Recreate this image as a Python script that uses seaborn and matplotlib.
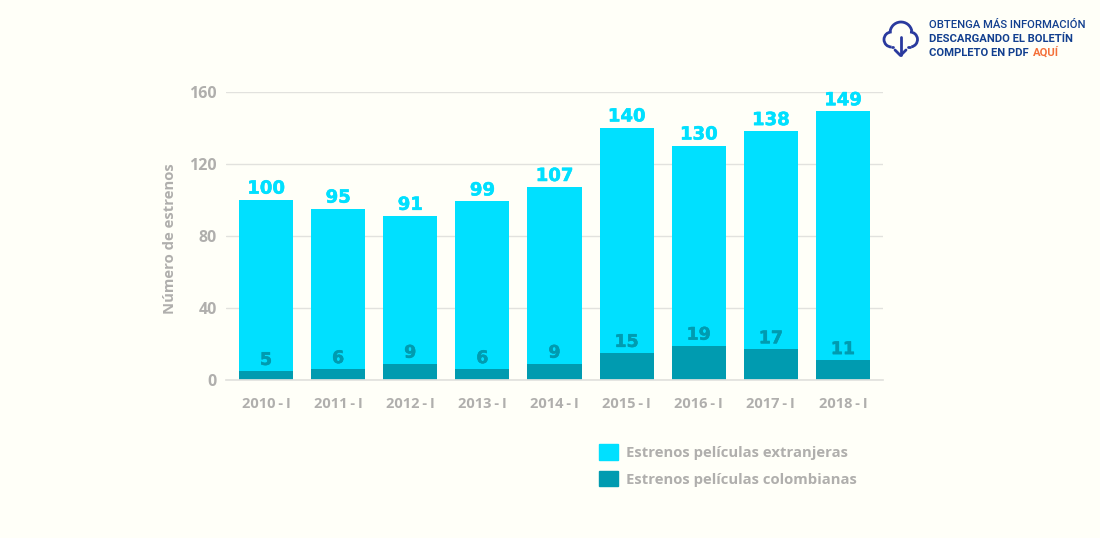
import matplotlib
matplotlib.use("Agg")

import matplotlib.pyplot as plt
import matplotlib.patheffects as pe
import numpy as np
import pandas as pd
import seaborn as sns
from matplotlib.patches import Arc, Patch

periods = ["2010-I", "2011-I", "2012-I", "2013-I", "2014-I", "2015-I", "2016-I", "2017-I", "2018-I"]
period_labels = ["2010\u2009-\u2009I", "2011\u2009-\u2009I", "2012\u2009-\u2009I", "2013\u2009-\u2009I", "2014\u2009-\u2009I",
                 "2015\u2009-\u2009I", "2016\u2009-\u2009I", "2017\u2009-\u2009I", "2018\u2009-\u2009I"]
total_releases = [100, 95, 91, 99, 107, 140, 130, 138, 149]
colombian_releases = [5, 6, 9, 6, 9, 15, 19, 17, 11]
y_ticks = [0, 40, 80, 120, 160]

BACKGROUND = "#FFFFF8"
CYAN = "#00E0FF"
TEAL = "#009BB0"
GREY = "#B0AFAD"
GRID = "#E2E2DE"
NAVY = "#123F8F"
ORANGE = "#F4703A"

df = pd.DataFrame({"period": periods, "total": total_releases, "colombian": colombian_releases})

sns.set_theme(style="white")
plt.rcParams["font.family"] = ["Open Sans", "DejaVu Sans"]

W, H = 1100, 538
fig = plt.figure(figsize=(W / 100, H / 100), dpi=100, facecolor=BACKGROUND)
ax = fig.add_axes([226 / W, 1 - 380 / H, (883 - 226) / W, (380 - 91.5) / H], facecolor=BACKGROUND)

# total bar behind, colombian share painted over it
sns.barplot(data=df, x="period", y="total", color=CYAN, saturation=1, width=0.75, linewidth=0, ax=ax)
sns.barplot(data=df, x="period", y="colombian", color=TEAL, saturation=1, width=0.75, linewidth=0, ax=ax)

ax.set_xlim(-0.555, 8.555)
ax.set_ylim(0, 160)
ax.set_yticks(y_ticks)
ax.set_xticks(range(len(period_labels)))
ax.set_xticklabels(period_labels, fontsize=10.5, fontweight="bold", color=GREY)
ax.tick_params(axis="x", length=0, pad=12)
ax.tick_params(axis="y", length=0, pad=6.5, labelsize=11.5, labelcolor=GREY)
for lab in ax.get_yticklabels():
    lab.set_fontweight("bold")

ax.set_axisbelow(True)
ax.grid(axis="y", color=GRID, linewidth=1)
sns.despine(ax=ax, left=True, bottom=True)
ax.spines["bottom"].set_visible(True)
ax.spines["bottom"].set_color(GRID)

ax.set_xlabel("")
ax.set_ylabel("")
fig.text(170 / W, 1 - 239 / H, "Número de estrenos", rotation=90, ha="center", va="center",
         fontsize=10.7, fontweight="bold", color=GREY)

# value labels are heavier than DejaVu Bold in the original, thicken them a bit
for i, (tot, col) in enumerate(zip(total_releases, colombian_releases)):
    a = ax.annotate(str(tot), (i, tot), xytext=(0, 1.5), textcoords="offset points", ha="center", va="bottom",
                    fontsize=13, fontweight="bold", color=CYAN, family="DejaVu Sans", annotation_clip=False)
    a.set_path_effects([pe.withStroke(linewidth=0.4, foreground=CYAN)])
    b = ax.annotate(str(col), (i, col), xytext=(0, 1.5), textcoords="offset points", ha="center", va="bottom",
                    fontsize=12.5, fontweight="bold", color=TEAL, family="DejaVu Sans", annotation_clip=False)
    b.set_path_effects([pe.withStroke(linewidth=0.4, foreground=TEAL)])

# legend
handles = [Patch(color=CYAN), Patch(color=TEAL)]
leg = fig.legend(handles, ["Estrenos películas extranjeras", "Estrenos películas colombianas"],
                 loc="upper left", bbox_to_anchor=(586 / W, 1 - 431 / H), frameon=False,
                 prop={"size": 10.7, "weight": "bold", "family": "Open Sans"},
                 labelcolor=GREY, handlelength=1.22, handleheight=1.22, handletextpad=0.6, labelspacing=0.72)

# download banner in the corner
ybase = [28, 42, 56]
fig.text(929 / W, 1 - ybase[0] / H, "OBTENGA MÁS INFORMACIÓN", fontsize=8.1, family="Roboto",
         fontweight="medium", color=NAVY, va="baseline")
fig.text(929 / W, 1 - ybase[1] / H, "DESCARGANDO EL BOLETÍN", fontsize=8.1, family="Roboto",
         fontweight="bold", color=NAVY, va="baseline")
t = fig.text(929 / W, 1 - ybase[2] / H, "COMPLETO EN PDF", fontsize=8.1, family="Roboto",
             fontweight="bold", color=NAVY, va="baseline")
fig.canvas.draw()
x_end = t.get_window_extent().x1
fig.text((x_end + 4) / W, 1 - ybase[2] / H, "AQUÍ", fontsize=8.1, family="Roboto",
         fontweight="bold", color=ORANGE, va="baseline")

# cloud icon, pixel coordinates
icon = fig.add_axes([0, 0, 1, 1], facecolor="none")
icon.set_xlim(0, W)
icon.set_ylim(H, 0)
icon.axis("off")
icon_color = "#2A3A9E"
icon.add_patch(Arc((891.5, 39.5), 15, 15, theta1=90, theta2=270, color=icon_color, lw=2))
icon.add_patch(Arc((901, 33), 22, 22, theta1=180, theta2=350, color=icon_color, lw=2))
icon.add_patch(Arc((910, 39.5), 15, 15, theta1=-90, theta2=80, color=icon_color, lw=2))
icon.plot([891.5, 893], [47, 47], color=icon_color, lw=2, solid_capstyle="round")
icon.plot([908, 910], [47, 47], color=icon_color, lw=2, solid_capstyle="round")
icon.plot([900.5, 900.5], [37, 55], color=icon_color, lw=2, solid_capstyle="round")
icon.plot([895, 900.5, 906], [50, 55.5, 50], color=icon_color, lw=2, solid_capstyle="round")

fig.savefig("out.png", dpi=100, facecolor=BACKGROUND)
